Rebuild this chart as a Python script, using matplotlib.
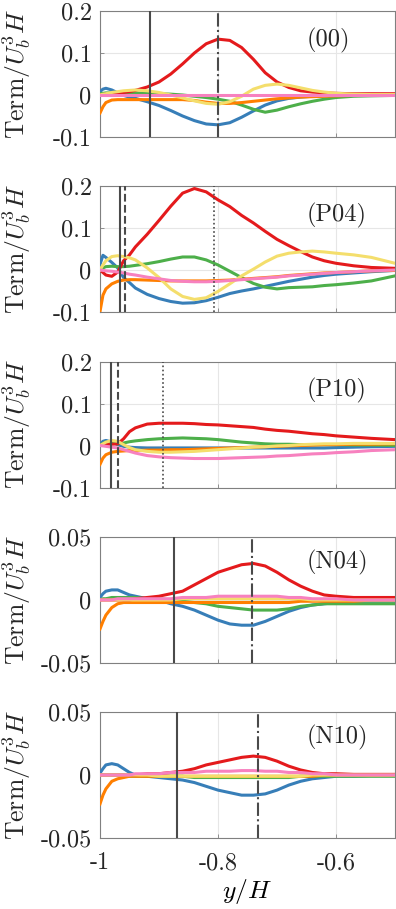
import matplotlib
matplotlib.use("Agg")
import matplotlib.pyplot as plt

plt.rcParams['mathtext.fontset'] = 'cm'
plt.rcParams['font.family'] = ['cmr10', 'DejaVu Serif']
plt.rcParams['axes.unicode_minus'] = False

# common wall-normal grid
y_H = [-1.0, -0.995, -0.99, -0.98, -0.97, -0.96, -0.95, -0.94, -0.92, -0.90,
       -0.88, -0.86, -0.84, -0.82, -0.80, -0.78, -0.76, -0.74, -0.72, -0.70,
       -0.68, -0.66, -0.64, -0.62, -0.60, -0.57, -0.54, -0.50]

cases = ['(00)', '(P04)', '(P10)', '(N04)', '(N10)']

# ---- (00)
red_00 = [0.000, 0.001, 0.002, 0.003, 0.004, 0.006, 0.008, 0.011, 0.019, 0.031,
          0.050, 0.074, 0.100, 0.122, 0.133, 0.130, 0.113, 0.085, 0.053, 0.031,
          0.018, 0.010, 0.007, 0.005, 0.004, 0.003, 0.003, 0.003]
blue_00 = [0.008, 0.014, 0.016, 0.012, 0.005, -0.001, -0.005, -0.008, -0.016, -0.025,
           -0.037, -0.050, -0.061, -0.069, -0.071, -0.066, -0.053, -0.038, -0.024, -0.014,
           -0.008, -0.005, -0.003, -0.002, -0.001, -0.001, -0.001, 0.000]
green_00 = [0.003, 0.004, 0.005, 0.005, 0.005, 0.005, 0.005, 0.005, 0.004, 0.003,
            0.002, 0.000, -0.003, -0.006, -0.010, -0.015, -0.024, -0.034, -0.041, -0.036,
            -0.028, -0.021, -0.015, -0.010, -0.006, -0.003, -0.002, -0.001]
orange_00 = [-0.043, -0.028, -0.018, -0.012, -0.011, -0.011, -0.011, -0.011, -0.011, -0.011,
             -0.011, -0.011, -0.013, -0.017, -0.020, -0.020, -0.018, -0.015, -0.012, -0.009,
             -0.007, -0.005, -0.004, -0.003, -0.002, -0.001, -0.001, 0.000]
yellow_00 = [0.000, 0.002, 0.003, 0.006, 0.008, 0.010, 0.011, 0.012, 0.010, 0.006,
             0.000, -0.007, -0.014, -0.020, -0.022, -0.016, -0.003, 0.014, 0.023, 0.026,
             0.023, 0.017, 0.011, 0.007, 0.004, 0.002, 0.001, 0.001]
pink_00 = [0.000, 0.000, 0.000, 0.000, 0.000, 0.000, 0.000, 0.000, 0.000, 0.000,
           0.000, 0.000, 0.000, 0.000, 0.000, 0.000, 0.000, 0.000, 0.000, 0.000,
           0.000, 0.000, 0.000, 0.000, 0.000, 0.000, 0.000, 0.000]

# ---- (P04)
red_P04 = [0.000, -0.006, -0.012, -0.015, -0.005, 0.022, 0.036, 0.055, 0.085, 0.118,
           0.152, 0.183, 0.194, 0.186, 0.167, 0.151, 0.130, 0.112, 0.092, 0.073,
           0.058, 0.044, 0.031, 0.022, 0.016, 0.010, 0.006, 0.004]
blue_P04 = [0.013, 0.035, 0.030, 0.018, 0.005, -0.018, -0.030, -0.043, -0.058, -0.068,
            -0.075, -0.079, -0.078, -0.073, -0.065, -0.056, -0.050, -0.045, -0.039, -0.033,
            -0.027, -0.022, -0.017, -0.013, -0.010, -0.007, -0.004, -0.001]
green_P04 = [0.000, 0.005, 0.008, 0.009, 0.008, 0.008, 0.009, 0.011, 0.015, 0.020,
             0.026, 0.031, 0.031, 0.024, 0.012, -0.003, -0.018, -0.032, -0.041, -0.045,
             -0.042, -0.041, -0.040, -0.037, -0.035, -0.031, -0.026, -0.014]
orange_P04 = [-0.099, -0.060, -0.045, -0.033, -0.027, -0.024, -0.023, -0.023, -0.024, -0.025,
              -0.026, -0.026, -0.026, -0.026, -0.025, -0.024, -0.022, -0.020, -0.018, -0.016,
              -0.013, -0.011, -0.009, -0.007, -0.006, -0.004, -0.002, -0.001]
yellow_P04 = [0.000, 0.012, 0.022, 0.032, 0.034, 0.032, 0.029, 0.024, 0.005, -0.018,
              -0.045, -0.063, -0.070, -0.066, -0.051, -0.033, -0.014, 0.002, 0.019, 0.033,
              0.040, 0.043, 0.045, 0.043, 0.040, 0.036, 0.030, 0.016]
pink_P04 = [0.000, -0.001, -0.002, -0.003, -0.005, -0.007, -0.010, -0.012, -0.017, -0.021,
            -0.025, -0.027, -0.028, -0.028, -0.027, -0.025, -0.023, -0.021, -0.019, -0.017,
            -0.014, -0.012, -0.010, -0.008, -0.006, -0.004, -0.002, 0.000]

# ---- (P10)
red_P10 = [0.000, 0.002, 0.003, 0.003, 0.004, 0.016, 0.033, 0.042, 0.051, 0.053,
           0.053, 0.053, 0.052, 0.050, 0.049, 0.047, 0.045, 0.043, 0.039, 0.036,
           0.034, 0.031, 0.028, 0.026, 0.023, 0.020, 0.017, 0.014]
blue_P10 = [0.003, 0.010, 0.012, 0.008, 0.002, -0.002, -0.004, -0.005, -0.006, -0.006,
            -0.006, -0.006, -0.006, -0.006, -0.006, -0.006, -0.006, -0.006, -0.006, -0.006,
            -0.006, -0.006, -0.006, -0.006, -0.005, -0.004, -0.003, -0.002]
green_P10 = [0.000, 0.005, 0.008, 0.006, 0.004, 0.006, 0.009, 0.011, 0.014, 0.016,
             0.017, 0.018, 0.017, 0.016, 0.014, 0.011, 0.008, 0.006, 0.004, 0.003,
             0.003, 0.002, 0.002, 0.002, 0.002, 0.001, 0.001, 0.000]
orange_P10 = [-0.045, -0.030, -0.022, -0.016, -0.014, -0.013, -0.012, -0.012, -0.011, -0.011,
              -0.010, -0.010, -0.009, -0.008, -0.007, -0.006, -0.005, -0.004, -0.003, -0.002,
              -0.001, 0.000, 0.001, 0.002, 0.002, 0.003, 0.003, 0.004]
yellow_P10 = [0.000, 0.004, 0.008, 0.012, 0.010, 0.002, -0.005, -0.010, -0.014, -0.016,
              -0.016, -0.015, -0.014, -0.012, -0.010, -0.008, -0.006, -0.004, -0.003, -0.001,
              0.000, 0.002, 0.003, 0.004, 0.004, 0.005, 0.005, 0.005]
pink_P10 = [0.000, -0.001, -0.002, -0.004, -0.006, -0.010, -0.014, -0.018, -0.024, -0.027,
            -0.029, -0.030, -0.031, -0.031, -0.031, -0.030, -0.029, -0.028, -0.027, -0.025,
            -0.024, -0.022, -0.020, -0.019, -0.017, -0.015, -0.012, -0.010]

# ---- (N04)
red_N04 = [0.000, 0.000, 0.000, 0.000, 0.000, 0.000, 0.000, 0.001, 0.002, 0.003,
           0.005, 0.007, 0.012, 0.017, 0.022, 0.025, 0.028, 0.029, 0.027, 0.022,
           0.016, 0.011, 0.007, 0.004, 0.003, 0.002, 0.002, 0.002]
blue_N04 = [0.002, 0.005, 0.007, 0.008, 0.008, 0.006, 0.004, 0.003, 0.001, 0.000,
            -0.003, -0.005, -0.008, -0.012, -0.016, -0.019, -0.020, -0.020, -0.017, -0.013,
            -0.009, -0.006, -0.004, -0.003, -0.002, -0.001, -0.001, -0.001]
green_N04 = [0.000, 0.001, 0.001, 0.002, 0.002, 0.002, 0.002, 0.002, 0.001, 0.001,
             0.000, -0.001, -0.002, -0.003, -0.005, -0.006, -0.007, -0.008, -0.008, -0.008,
             -0.007, -0.005, -0.004, -0.003, -0.003, -0.003, -0.003, -0.003]
orange_N04 = [-0.023, -0.017, -0.012, -0.006, -0.003, -0.002, -0.002, -0.002, -0.002, -0.002,
              -0.002, -0.002, -0.002, -0.002, -0.002, -0.002, -0.002, -0.002, -0.002, -0.002,
              -0.002, -0.001, -0.001, -0.001, -0.001, -0.001, 0.000, 0.000]
yellow_N04 = [0.000, 0.000, 0.000, 0.000, 0.000, 0.000, 0.000, 0.000, 0.000, 0.000,
              0.000, 0.001, 0.001, 0.001, 0.001, 0.001, 0.001, 0.001, 0.001, 0.001,
              0.001, 0.001, 0.000, 0.000, 0.000, 0.000, 0.000, 0.000]
pink_N04 = [0.000, 0.000, 0.000, 0.000, 0.001, 0.001, 0.001, 0.001, 0.001, 0.001,
            0.001, 0.002, 0.002, 0.002, 0.003, 0.003, 0.003, 0.003, 0.003, 0.003,
            0.002, 0.002, 0.001, 0.001, 0.001, 0.000, 0.000, 0.000]

# ---- (N10)
red_N10 = [0.000, 0.000, 0.000, 0.000, 0.000, 0.000, 0.000, 0.000, 0.001, 0.001,
           0.002, 0.003, 0.005, 0.008, 0.010, 0.012, 0.014, 0.015, 0.014, 0.011,
           0.007, 0.004, 0.002, 0.001, 0.001, 0.0005, 0.0005, 0.0005]
blue_N10 = [0.0015, 0.005, 0.008, 0.009, 0.008, 0.005, 0.002, 0.000, -0.001, -0.002,
            -0.003, -0.004, -0.006, -0.009, -0.012, -0.014, -0.016, -0.016, -0.015, -0.012,
            -0.008, -0.005, -0.003, -0.002, -0.001, -0.001, -0.0005, -0.0005]
green_N10 = [0.000, 0.000, 0.000, 0.000, 0.000, 0.000, -0.001, -0.001, -0.001, -0.001,
             -0.001, -0.001, -0.002, -0.002, -0.002, -0.002, -0.002, -0.002, -0.002, -0.002,
             -0.002, -0.001, -0.001, -0.001, -0.001, -0.001, -0.001, -0.001]
orange_N10 = [-0.023, -0.016, -0.011, -0.005, -0.003, -0.002, -0.001, -0.001, -0.001, -0.001,
              -0.001, -0.001, -0.001, -0.001, -0.001, -0.001, -0.001, -0.001, -0.001, -0.001,
              -0.001, -0.001, -0.001, 0.000, 0.000, 0.000, 0.000, 0.000]
yellow_N10 = [0.000, 0.000, 0.000, 0.000, 0.000, 0.000, 0.000, 0.000, 0.000, -0.001,
              -0.001, -0.001, -0.001, -0.001, -0.001, -0.001, -0.001, -0.001, -0.001, -0.001,
              -0.001, -0.001, 0.000, 0.000, 0.000, 0.000, 0.000, 0.000]
pink_N10 = [0.000, 0.000, 0.000, 0.000, 0.000, 0.000, 0.000, 0.001, 0.001, 0.001,
            0.002, 0.002, 0.002, 0.003, 0.003, 0.003, 0.0035, 0.0035, 0.003, 0.003,
            0.002, 0.002, 0.001, 0.001, 0.000, 0.000, 0.000, 0.000]

# vertical marker positions (solid, dashed / dash-dot, dotted)
solid_pos = [-0.916, -0.966, -0.981, -0.875, -0.870]
dash_pos = [-0.7995, -0.958, -0.970, -0.743, -0.732]
dash_style = ['dashdot', 'dashed', 'dashed', 'dashdot', 'dashdot']
dot_pos = [None, -0.807, -0.893, None, None]

ylims = [(-0.1, 0.2), (-0.1, 0.2), (-0.1, 0.2), (-0.05, 0.05), (-0.05, 0.05)]
yticks_list = [[-0.1, 0, 0.1, 0.2]] * 3 + [[-0.05, 0, 0.05]] * 2
yticklabels_list = [['-0.1', '0', '0.1', '0.2']] * 3 + [['-0.05', '0', '0.05']] * 2
label_y = [0.13, 0.13, 0.13, 0.03, 0.03]
xticks = [-1, -0.8, -0.6]
xticklabels = ['-1', '-0.8', '-0.6']

series = [
    dict(blue=blue_00, green=green_00, orange=orange_00, yellow=yellow_00, red=red_00, pink=pink_00),
    dict(blue=blue_P04, green=green_P04, orange=orange_P04, yellow=yellow_P04, red=red_P04, pink=pink_P04),
    dict(blue=blue_P10, green=green_P10, orange=orange_P10, yellow=yellow_P10, red=red_P10, pink=pink_P10),
    dict(blue=blue_N04, green=green_N04, orange=orange_N04, yellow=yellow_N04, red=red_N04, pink=pink_N04),
    dict(blue=blue_N10, green=green_N10, orange=orange_N10, yellow=yellow_N10, red=red_N10, pink=pink_N10),
]
colors = dict(blue='#377EB8', green='#4DAF4A', orange='#FF7F00',
              yellow='#F4DE6C', red='#E41A1C', pink='#F781BF')

fig = plt.figure(figsize=(3.96, 9.09), dpi=100)
W, H = 396.0, 909.0
tops = [11, 186, 361.5, 537, 712]
ax_h = 126
left, right = 100, 395
FS = 17.5

for i in range(5):
    top = tops[i]
    ax = fig.add_axes([left / W, 1 - (top + ax_h) / H, (right - left) / W, ax_h / H])
    for name in ['blue', 'green', 'orange', 'red', 'yellow', 'pink']:
        ax.plot(y_H, series[i][name], color=colors[name], lw=2.2, zorder=3,
                solid_joinstyle='round')
    ax.axvline(solid_pos[i], color='#4a4a4a', lw=1.5, zorder=5)
    ax.axvline(dash_pos[i], color='#4a4a4a', lw=1.5, ls=dash_style[i], zorder=5)
    if dot_pos[i] is not None:
        ax.axvline(dot_pos[i], color='#4a4a4a', lw=1.2, ls=(0, (1, 1.5)), zorder=5)
    ax.set_xlim(-1, -0.5)
    ax.set_ylim(*ylims[i])
    ax.set_yticks(yticks_list[i])
    ax.set_yticklabels(yticklabels_list[i], fontsize=FS)
    ax.set_xticks(xticks)
    if i == 4:
        ax.set_xticklabels(xticklabels, fontsize=FS)
        ax.set_xlabel(r'$y/H$', fontsize=FS + 1, labelpad=2)
    else:
        ax.set_xticklabels([])
    ax.grid(True, color='#e6e6e6', lw=0.8, zorder=0)
    ax.set_axisbelow(True)
    for s in ax.spines.values():
        s.set_color('#808080')
        s.set_linewidth(0.8)
    ax.tick_params(direction='in', length=3, width=0.6, color='#808080',
                   labelcolor='#262626', pad=6)
    ax.tick_params(axis='x', pad=10)
    ax.set_ylabel(r'$\mathrm{Term}/U_b^3H$', fontsize=FS + 1, color='#262626')
    ax.yaxis.set_label_coords(-0.227, 0.5)
    ax.text(-0.65, label_y[i], cases[i], fontsize=FS, ha='left', va='center',
            color='#262626', zorder=6)

fig.savefig('out.png', dpi=100)
